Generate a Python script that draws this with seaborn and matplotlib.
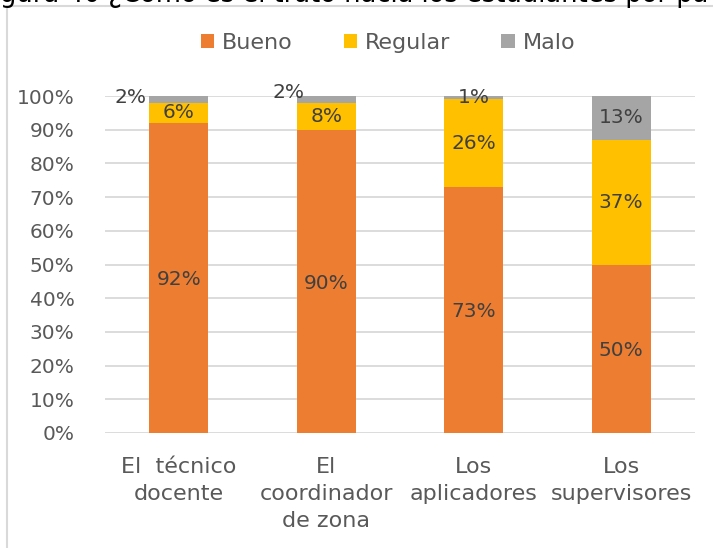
import matplotlib
matplotlib.use("Agg")
import matplotlib.pyplot as plt
from matplotlib.patches import Patch
from matplotlib.lines import Line2D
import seaborn as sns
import pandas as pd

# Data
categories = ["El  técnico\ndocente", "El\ncoordinador\nde zona", "Los\naplicadores", "Los\nsupervisores"]
bueno = [92, 90, 73, 50]
regular = [6, 8, 26, 37]
malo = [2, 2, 1, 13]
series_names = ["Bueno", "Regular", "Malo"]
y_ticks = [0, 10, 20, 30, 40, 50, 60, 70, 80, 90, 100]
title_text = "gura 40 ¿Cómo es el trato hacia los estudiantes por pa"

colors = {"Bueno": "#ED7D31", "Regular": "#FFC000", "Malo": "#A5A5A5"}
tick_color = "#595959"
label_color = "#404040"
grid_color = "#D9D9D9"

sns.set_style("white")
plt.rcParams["font.family"] = ["DejaVu Sans"]

W, H = 713, 548
fig = plt.figure(figsize=(W / 100, H / 100), dpi=100)
ax = fig.add_axes([105 / W, 1 - 433 / H, (695 - 105) / W, (433 - 96) / H])

df = pd.DataFrame({"cat": categories, "Bueno": bueno, "Regular": regular, "Malo": malo})
df["top_regular"] = df["Bueno"] + df["Regular"]
df["top_malo"] = df["top_regular"] + df["Malo"]

# Stacked bars: draw cumulative totals back to front
for col, name in [("top_malo", "Malo"), ("top_regular", "Regular"), ("Bueno", "Bueno")]:
    sns.barplot(data=df, x="cat", y=col, color=colors[name], saturation=1,
                width=0.4, ax=ax, zorder=3, linewidth=0, errorbar=None)

ax.set_ylim(0, 100)
ax.set_xlim(-0.5, 3.5)
ax.set_yticks(y_ticks)
ax.set_yticklabels([f"{v}%" for v in y_ticks])
ax.yaxis.grid(True, color=grid_color, linewidth=1.3, zorder=0)
ax.set_axisbelow(True)
ax.set_xlabel("")
ax.set_ylabel("")
for s in ax.spines.values():
    s.set_visible(False)
ax.tick_params(axis="y", length=0, pad=22, labelsize=14.5, labelcolor=tick_color)
ax.tick_params(axis="x", length=0, pad=17, labelsize=16, labelcolor=tick_color)
for t in ax.get_xticklabels():
    t.set_linespacing(1.45)
    t.set_verticalalignment("top")

# Data labels
lab_kw = dict(ha="center", va="center", fontsize=14.5, color=label_color, zorder=5,
              textcoords="offset pixels")
malo_offsets = [(-48, 2), (-38, 7), (0, 0), (0, 0)]
for i in range(len(categories)):
    b, r, m = bueno[i], regular[i], malo[i]
    ax.annotate(f"{b}%", (i, b / 2), xytext=(0, -2), **lab_kw)
    ax.annotate(f"{r}%", (i, b + r / 2), xytext=(0, 0), **lab_kw)
    ax.annotate(f"{m}%", (i, b + r + m / 2), xytext=malo_offsets[i], **lab_kw)

# Legend
handles = [Patch(facecolor=colors[n], edgecolor="none", label=n) for n in series_names]
fig.legend(handles=handles, loc="center", bbox_to_anchor=(388 / W, 1 - 43 / H),
           ncol=3, frameon=False, fontsize=16, labelcolor=tick_color,
           handlelength=0.6, handleheight=0.6, handletextpad=0.35, columnspacing=2.3)

# Chart frame and caption above it
fig.add_artist(Line2D([7 / W, 7 / W], [0, 1 - 6 / H], transform=fig.transFigure,
                      color=grid_color, linewidth=1.5))
fig.add_artist(Line2D([7 / W, 1], [1 - 6 / H, 1 - 6 / H], transform=fig.transFigure,
                      color=grid_color, linewidth=1.5))
fig.text(0, 1 - 2 / H, title_text, ha="left", va="baseline", fontsize=18.5, color="#000000")

fig.savefig("out.png", dpi=100, facecolor="white")
